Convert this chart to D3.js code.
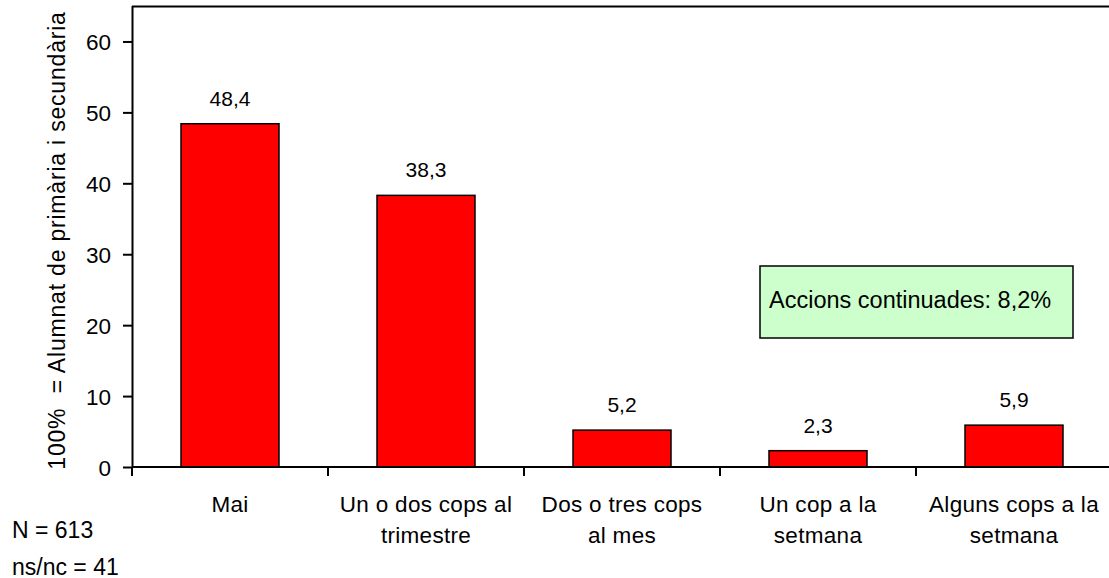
<!DOCTYPE html>
<html><head><meta charset="utf-8">
<script src="https://cdn.jsdelivr.net/npm/d3@7"></script>
<style>body{margin:0;background:#fff}svg{display:block;font-family:"Liberation Sans",Arial,sans-serif}</style>
</head><body>
<script>
const categories = [["Mai"], ["Un o dos cops al", "trimestre"], ["Dos o tres cops", "al mes"], ["Un cop a la", "setmana"], ["Alguns cops a la", "setmana"]];
const values = [48.4, 38.3, 5.2, 2.3, 5.9];
const valueLabels = ["48,4", "38,3", "5,2", "2,3", "5,9"];
const yTicks = [0, 10, 20, 30, 40, 50, 60];
const yTitle = "100%  = Alumnat de primària i secundària";
const noteLines = ["N = 613", "ns/nc = 41"];
const boxText = "Accions continuades: 8,2%";

const W = 1109, H = 578;
const L = 132, T = 6, R = 1112, B = 467;
const FF = "Liberation Sans, Arial, sans-serif";
const svg = d3.select("body").append("svg").attr("width", W).attr("height", H);

const x = d3.scaleBand().domain(d3.range(categories.length)).range([L, R]).paddingInner(0.5).paddingOuter(0.25);
const y = d3.scaleLinear().domain([0, 65]).range([B, T]);

// plot frame top
svg.append("line").attr("x1", L).attr("x2", R).attr("y1", T + 0.5).attr("y2", T + 0.5).attr("stroke", "#000").attr("stroke-width", 2);

// bars
svg.selectAll("rect.bar").data(values).enter().append("rect")
  .attr("x", (d, i) => x(i)).attr("width", x.bandwidth())
  .attr("y", d => y(d)).attr("height", d => y(0) - y(d))
  .attr("fill", "#ff0000").attr("stroke", "#000").attr("stroke-width", 1.5);

// value labels
svg.selectAll("text.val").data(values).enter().append("text")
  .attr("x", (d, i) => x(i) + x.bandwidth() / 2).attr("y", d => y(d) - 18)
  .attr("text-anchor", "middle").attr("font-size", 21).text((d, i) => valueLabels[i]);

// y axis
const ya = svg.append("g").attr("transform", `translate(${L},0)`)
  .call(d3.axisLeft(y).tickValues(yTicks).tickSize(9).tickPadding(12).tickFormat(d3.format("d")));
ya.select(".domain").attr("d", `M0.5,${T}V${B}`).attr("stroke-width", 2);
ya.selectAll(".tick line").attr("stroke-width", 2);
ya.selectAll(".tick text").attr("font-size", 22.5).attr("font-family", FF).attr("fill", "#000").attr("dy", "0.36em");

// x axis
const xEdges = d3.range(categories.length + 1).map(i => L + i * x.step());
const xa = svg.append("g");
xa.append("line").attr("x1", L).attr("x2", R).attr("y1", B).attr("y2", B).attr("stroke", "#000").attr("stroke-width", 2);
xa.selectAll("line.t").data(xEdges).enter().append("line")
  .attr("x1", d => d).attr("x2", d => d).attr("y1", B).attr("y2", B + 9).attr("stroke", "#000").attr("stroke-width", 2);

categories.forEach((lines, i) => {
  const cx = x(i) + x.bandwidth() / 2;
  const t = svg.append("text").attr("text-anchor", "middle").attr("font-size", 22.5)
    .attr("letter-spacing", 0.3).attr("x", cx).attr("y", 512);
  lines.forEach((ln, j) => t.append("tspan").attr("x", cx).attr("dy", j === 0 ? 0 : 31).text(ln));
});

// y title
svg.append("text").attr("transform", `translate(65,${(T + B) / 2 + 4}) rotate(-90)`)
  .attr("text-anchor", "middle").attr("font-size", 23).attr("letter-spacing", 0.8).attr("xml:space", "preserve")
  .style("white-space", "pre").text(yTitle);

// notes
noteLines.forEach((s, i) => svg.append("text").attr("x", 12).attr("y", 538 + i * 37).attr("font-size", 23).text(s));

// annotation box
svg.append("rect").attr("x", 760).attr("y", 266).attr("width", 313).attr("height", 72)
  .attr("fill", "#ccffcc").attr("stroke", "#000").attr("stroke-width", 1.5);
svg.append("text").attr("x", 769).attr("y", 308).attr("font-size", 23.5).text(boxText);
</script>
</body></html>
